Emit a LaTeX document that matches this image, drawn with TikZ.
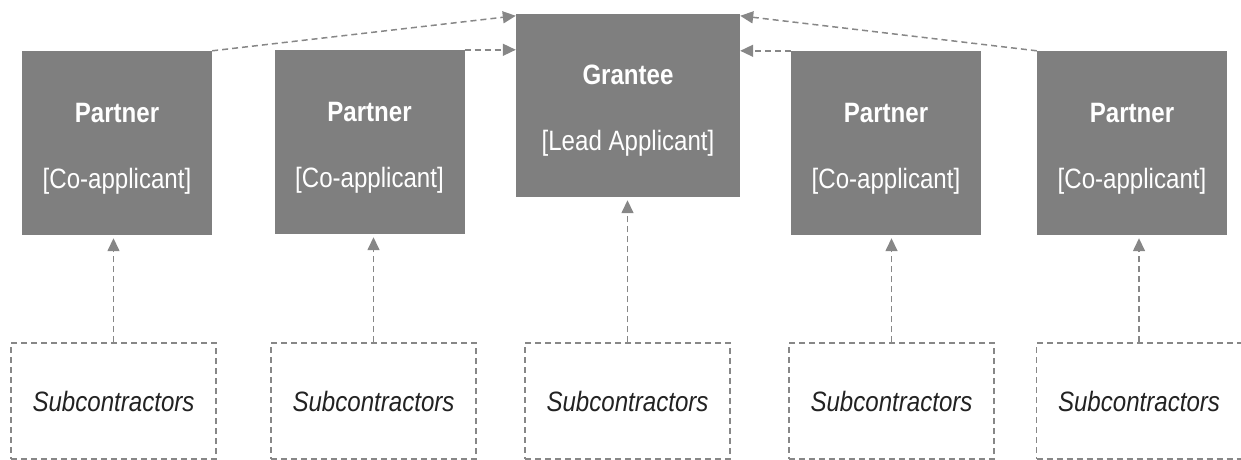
\documentclass[tikz,border=0pt]{standalone}
\usepackage{fontspec}
\setmainfont{Liberation Sans}[FakeStretch=0.86]
\usetikzlibrary{arrows.meta}
\definecolor{boxgray}{RGB}{127,127,127}
\definecolor{linegray}{RGB}{135,135,135}
\definecolor{textdark}{RGB}{34,34,34}
\newcommand{\boxtext}[2]{\rule{0pt}{30pt}\textbf{#1}\\ {#2}}

\begin{document}
\begin{tikzpicture}[
  x=1pt, y=-1pt,
  partnerbox/.style={rectangle, fill=boxgray, text=white, minimum width=190pt, minimum height=184pt, inner sep=0pt, align=center, font=\fontsize{28}{66}\selectfont},
  grantbox/.style={partnerbox, minimum width=224pt, minimum height=183pt},
  subbox/.style={rectangle, draw=linegray, line width=1.2pt, dash pattern=on 6pt off 4pt, minimum width=205pt, minimum height=116pt, inner sep=0pt, text=textdark, font=\fontsize{28}{32}\selectfont\itshape},
  link/.style={draw=linegray, line width=1.5pt, dash pattern=on 6pt off 4pt, -{Triangle[length=13pt, width=12pt]}}
]
\useasboundingbox (0,0) rectangle (1241,460);

\node[partnerbox] (p1) at (117,143) {\boxtext{Partner}{[Co-applicant]}};
\node[partnerbox] (p2) at (369.5,142) {\boxtext{Partner}{[Co-applicant]}};
\node[grantbox] (grantee) at (628,105.5) {\boxtext{Grantee}{[Lead Applicant]}};
\node[partnerbox] (p4) at (886,143) {\boxtext{Partner}{[Co-applicant]}};
\node[partnerbox] (p5) at (1132,143) {\boxtext{Partner}{[Co-applicant]}};

\node[subbox] (s1) at (113.5,401) {Subcontractors};
\node[subbox] (s2) at (373.5,401) {Subcontractors};
\node[subbox] (s3) at (627.5,401) {Subcontractors};
\node[subbox] (s4) at (891.5,401) {Subcontractors};
\node[subbox] (s5) at (1139,401) {Subcontractors};

% partners report to the lead applicant
\draw[link] (p1.north east) -- ([yshift=-2pt]grantee.north west);
\draw[link] (p2.north east) -- (p2.north east -| grantee.west);
\draw[link] (p4.north west) -- (p4.north west -| grantee.east);
\draw[link] (p5.north west) -- ([yshift=-2pt]grantee.north east);

% subcontractors
\draw[link, shorten >=3pt] (s1.north) -- (s1.north |- p1.south);
\draw[link, shorten >=3pt] (s2.north) -- (s2.north |- p2.south);
\draw[link, shorten >=3pt] (s3.north) -- (s3.north |- grantee.south);
\draw[link, shorten >=3pt] (s4.north) -- (s4.north |- p4.south);
\draw[link, shorten >=3pt] (s5.north) -- (s5.north |- p5.south);
\end{tikzpicture}
\end{document}
